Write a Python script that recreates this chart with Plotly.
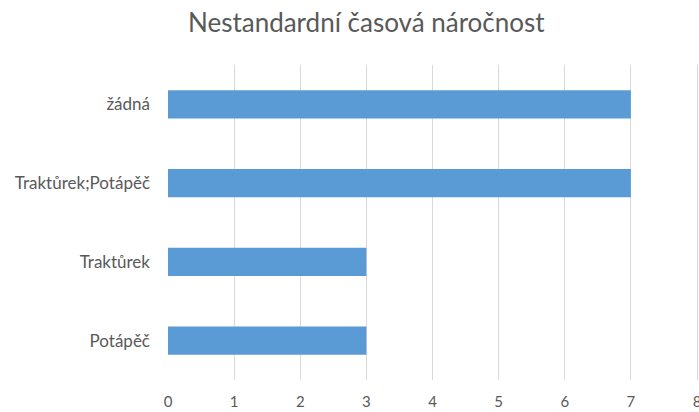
import plotly.graph_objects as go

categories = ["Potápěč", "Traktůrek", "Traktůrek;Potápěč", "žádná"]
values = [3, 3, 7, 7]
x_ticks = [0, 1, 2, 3, 4, 5, 6, 7, 8]

fig = go.Figure(go.Bar(
    x=values, y=categories, orientation="h",
    marker=dict(color="#5b9bd5", line=dict(width=0)),
    width=0.36,
))

font_family = "Lato, 'Open Sans', sans-serif"
fig.update_layout(
    width=699, height=412,
    margin=dict(l=168, r=0, t=65, b=32),
    paper_bgcolor="white", plot_bgcolor="white",
    showlegend=False,
    title=dict(text="Nestandardní časová náročnost", x=0.524, xref="container",
               xanchor="center", y=1 - 23/412, yanchor="middle",
               font=dict(family=font_family, size=26, color="#595959")),
    font=dict(family=font_family, size=17, color="#595959"),
)
fig.update_xaxes(range=[0, 8.03], tickvals=x_ticks, showgrid=True, gridcolor="#d9d9d9",
                 gridwidth=1, zeroline=False, showline=False, automargin=False,
                 ticklabeloverflow="allow",
                 ticklabelstandoff=11, tickfont=dict(size=15, color="#595959"))
fig.update_yaxes(range=[-0.5, 3.5], categoryorder="array", categoryarray=categories,
                 showgrid=False, zeroline=False, showline=False, automargin=False,
                 ticklabelstandoff=17, tickfont=dict(size=17, color="#595959"))

fig.write_html("out.html")
